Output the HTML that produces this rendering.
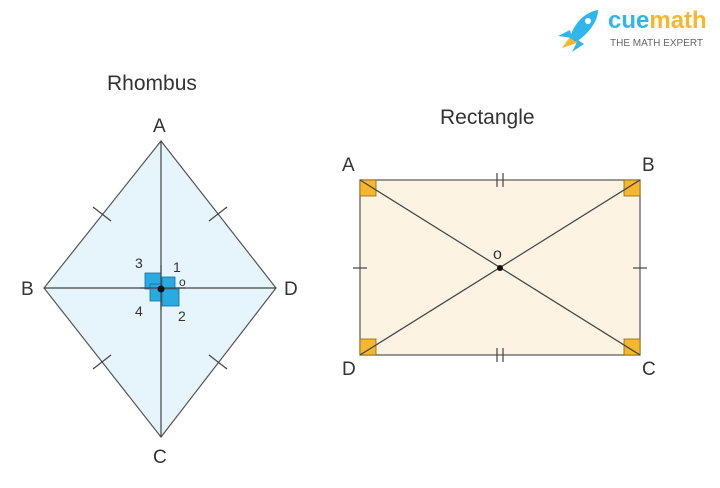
<!DOCTYPE html>
<html><head><style>
body{margin:0;background:#fff;width:720px;height:483px;overflow:hidden;font-family:"Liberation Sans",sans-serif}
</style></head><body>
<svg width="720" height="483" viewBox="0 0 720 483" xmlns="http://www.w3.org/2000/svg" font-family="Liberation Sans, sans-serif">
<!-- logo -->
<g transform="translate(556,8)">
<path d="M6 40 L16 26 L24 34 Z" fill="#f7b72d"/>
<path d="M14 30 C18 14 30 4 42 2 C42 14 32 26 20 34 Z" fill="#2fb6ec"/>
<path d="M2 28 L14 22 L16 30 Z" fill="#2fb6ec"/>
<path d="M16 44 L22 32 L28 36 Z" fill="#2fb6ec"/>
<circle cx="32" cy="13" r="3" fill="#fff"/>
</g>
<text x="608" y="28" font-size="24" font-weight="bold" fill="#2fb6ec">cue<tspan fill="#f7b72d">math</tspan></text>
<text x="610" y="46" font-size="10" fill="#666">THE MATH EXPERT</text>

<!-- Rhombus -->
<text x="107" y="90" font-size="21" fill="#333">Rhombus</text>
<polygon points="161,141 276,288 161,437 44,288" fill="#e6f4fb" stroke="#555" stroke-width="1.2"/>
<line x1="44" y1="288" x2="276" y2="288" stroke="#444" stroke-width="1.2"/>
<line x1="161" y1="141" x2="161" y2="437" stroke="#444" stroke-width="1.2"/>
<g stroke="#444" stroke-width="1.2">
<line x1="93" y1="207" x2="111" y2="221"/>
<line x1="227" y1="207" x2="209" y2="221"/>
<line x1="93" y1="369" x2="111" y2="355"/>
<line x1="227" y1="369" x2="209" y2="355"/>
</g>
<g fill="#29abe2" stroke="#1a6f9a" stroke-width="0.8">
<rect x="145" y="273" width="16" height="16"/>
<rect x="150" y="284" width="13" height="17"/>
<rect x="162" y="277" width="13" height="12"/>
<rect x="162" y="289" width="17" height="17"/>
</g>
<line x1="140" y1="288" x2="185" y2="288" stroke="#444" stroke-width="1.2"/>
<line x1="161" y1="265" x2="161" y2="310" stroke="#444" stroke-width="1.2"/>
<circle cx="161" cy="289" r="3.5" fill="#111"/>
<g font-size="14" fill="#333">
<text x="135" y="268">3</text><text x="173" y="272">1</text>
<text x="179" y="286" font-size="12">o</text>
<text x="135" y="316">4</text><text x="178" y="321">2</text>
</g>
<g font-size="19" fill="#333">
<text x="153" y="132">A</text>
<text x="21" y="295">B</text>
<text x="284" y="295">D</text>
<text x="153" y="463">C</text>
</g>

<!-- Rectangle -->
<text x="440" y="124" font-size="21" fill="#333">Rectangle</text>
<rect x="360" y="180" width="280" height="175" fill="#fdf3e2" stroke="#555" stroke-width="1.2"/>
<g fill="#f7b72d" stroke="#8a6410" stroke-width="0.8">
<rect x="360" y="180" width="16" height="16"/>
<rect x="624" y="180" width="16" height="16"/>
<rect x="360" y="339" width="16" height="16"/>
<rect x="624" y="339" width="16" height="16"/>
</g>
<line x1="360" y1="180" x2="640" y2="355" stroke="#444" stroke-width="1.2"/>
<line x1="640" y1="180" x2="360" y2="355" stroke="#444" stroke-width="1.2"/>
<g stroke="#444" stroke-width="1.2">
<line x1="497" y1="173" x2="497" y2="187"/><line x1="503" y1="173" x2="503" y2="187"/>
<line x1="497" y1="348" x2="497" y2="362"/><line x1="503" y1="348" x2="503" y2="362"/>
<line x1="353" y1="268" x2="367" y2="268"/>
<line x1="633" y1="268" x2="647" y2="268"/>
</g>
<circle cx="500" cy="268" r="3" fill="#111"/>
<text x="493" y="259" font-size="16" fill="#333">o</text>
<g font-size="19" fill="#333">
<text x="342" y="171">A</text>
<text x="642" y="171">B</text>
<text x="342" y="375">D</text>
<text x="642" y="375">C</text>
</g>
</svg>
</body></html>
